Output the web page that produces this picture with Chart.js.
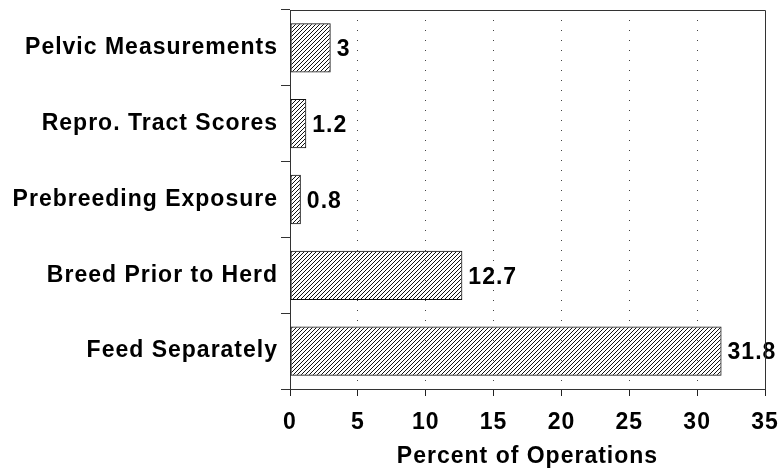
<!DOCTYPE html>
<html>
<head>
<meta charset="utf-8">
<script src="https://cdn.jsdelivr.net/npm/chart.js@4.4.0/dist/chart.umd.min.js"></script>
<style>
    html, body { margin: 0; padding: 0; background: #fff; }
</style>
</head>
<body>
<canvas id="myChart" width="779" height="470"></canvas>
<script>
const categories = ['Pelvic Measurements', 'Repro. Tract Scores', 'Prebreeding Exposure', 'Breed Prior to Herd', 'Feed Separately'];
const percents = [3, 1.2, 0.8, 12.7, 31.8];
const xTicks = [0, 5, 10, 15, 20, 25, 30, 35];
const axisTitle = 'Percent of Operations';

const FONT = '"Liberation Sans", Arial, Helvetica, sans-serif';
const FONT_SIZE = 23;
const SPACING = '1px';

// diagonal "/" hatch used for every bar
function makeHatch(ctx) {
    const c = document.createElement('canvas');
    c.width = 4; c.height = 4;
    const g = c.getContext('2d');
    g.strokeStyle = '#111';
    g.lineWidth = 1;
    g.beginPath();
    g.moveTo(-1, 5); g.lineTo(5, -1);
    g.moveTo(-1, 1); g.lineTo(1, -1);
    g.moveTo(3, 5); g.lineTo(5, 3);
    g.stroke();
    return ctx.createPattern(c, 'repeat');
}

const spacingPlugin = {
    id: 'spacing',
    beforeUpdate: function (chart) { chart.ctx.letterSpacing = SPACING; },
    beforeDraw: function (chart) { chart.ctx.letterSpacing = SPACING; }
};

const framePlugin = {
    id: 'frame',
    afterDraw: function (chart) {
        const a = chart.chartArea;
        const ctx = chart.ctx;
        ctx.save();
        ctx.strokeStyle = '#333';
        ctx.lineWidth = 1;
        ctx.beginPath();
        ctx.moveTo(Math.round(a.left) + 0.5, Math.round(a.top) + 0.5);
        ctx.lineTo(Math.round(a.right) + 0.5, Math.round(a.top) + 0.5);
        ctx.lineTo(Math.round(a.right) + 0.5, Math.round(a.bottom) + 0.5);
        ctx.stroke();
        ctx.restore();
    }
};

const valueLabels = {
    id: 'valueLabels',
    afterDatasetsDraw: function (chart) {
        const ctx = chart.ctx;
        const meta = chart.getDatasetMeta(0);
        ctx.save();
        ctx.font = 'bold ' + FONT_SIZE + 'px ' + FONT;
        ctx.fillStyle = '#000';
        ctx.textAlign = 'left';
        ctx.textBaseline = 'middle';
        meta.data.forEach(function (bar, i) {
            ctx.fillText(String(percents[i]), bar.x + 6, bar.y + 2);
        });
        ctx.restore();
    }
};

const ctx = document.getElementById('myChart').getContext('2d');
const myChart = new Chart(ctx, {
    type: 'bar',
    data: {
        labels: categories,
        datasets: [{
            data: percents,
            backgroundColor: makeHatch(ctx),
            borderColor: '#111',
            borderWidth: 1,
            borderSkipped: false,
            barPercentage: 0.65,
            categoryPercentage: 1
        }]
    },
    options: {
        indexAxis: 'y',
        responsive: false,
        animation: false,
        layout: { padding: { top: 10, right: 14, left: 0, bottom: 0 } },
        plugins: {
            legend: { display: false },
            tooltip: { enabled: false }
        },
        scales: {
            x: {
                min: 0,
                max: 35,
                afterBuildTicks: function (axis) {
                    axis.ticks = xTicks.map(function (v) { return { value: v }; });
                },
                afterFit: function (axis) {
                    axis.height = 81;
                    axis.paddingLeft = 0;
                    axis.paddingRight = 0;
                },
                border: { display: true, color: '#333', width: 1, dash: [1, 9] },
                grid: {
                    color: function (c) {
                        return (c.tick && c.tick.value > 0 && c.tick.value < 35) ? '#444' : 'rgba(0,0,0,0)';
                    },
                    tickBorderDash: [],
                    tickColor: '#222',
                    tickLength: 7,
                    tickWidth: 1
                },
                ticks: {
                    color: '#000',
                    font: { family: FONT, size: FONT_SIZE, weight: 'bold' },
                    padding: 13,
                    maxRotation: 0
                },
                title: {
                    display: true,
                    text: axisTitle,
                    color: '#000',
                    font: { family: FONT, size: FONT_SIZE, weight: 'bold' },
                    padding: { top: 0, bottom: 0 }
                }
            },
            y: {
                afterFit: function (axis) {
                    axis.width = 290;
                    axis.paddingTop = 0;
                    axis.paddingBottom = 0;
                },
                border: { display: true, color: '#333', width: 1 },
                grid: {
                    drawOnChartArea: false,
                    tickLength: 9,
                    tickColor: '#333'
                },
                ticks: {
                    color: '#000',
                    font: { family: FONT, size: FONT_SIZE, weight: 'bold' },
                    padding: 3
                }
            }
        }
    },
    plugins: [spacingPlugin, framePlugin, valueLabels]
});
</script>
</body>
</html>
